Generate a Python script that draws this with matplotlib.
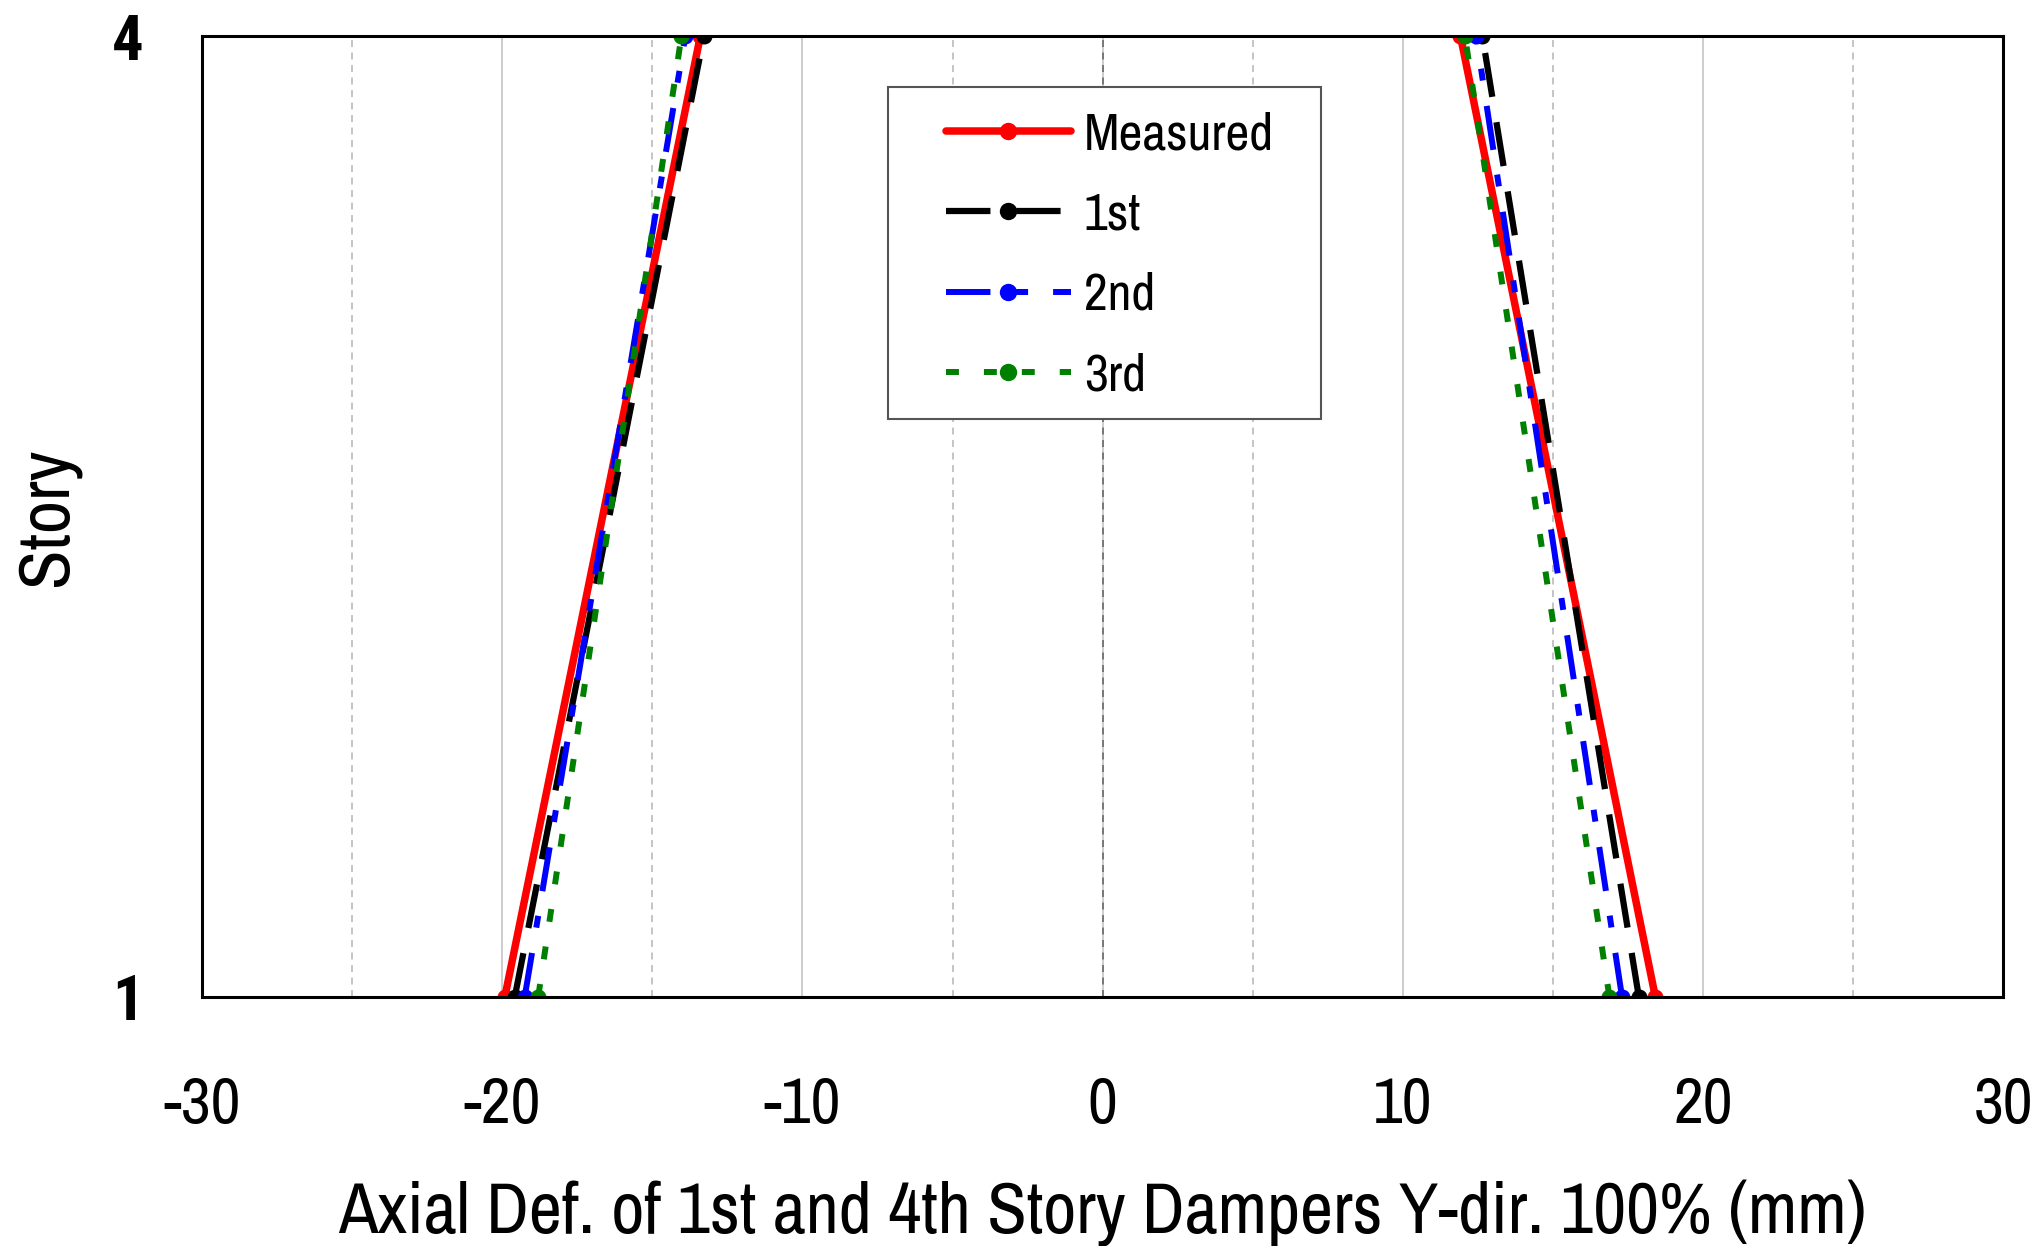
#!/usr/bin/env python3
"""Axial deformation of 1st and 4th story dampers, Y-dir. 100%: measured vs analysis."""

import matplotlib

matplotlib.use("Agg")
import matplotlib.pyplot as plt
from matplotlib import font_manager
from matplotlib.patches import Rectangle
from matplotlib.ticker import MultipleLocator

# story levels where the dampers sit
stories = [1, 4]

# axial deformation (mm); left branch = compression side, right = tension side
measured_left = [-19.91, -13.40]
measured_right = [18.41, 11.92]
first_left = [-19.58, -13.28]
first_right = [17.86, 12.65]
second_left = [-19.25, -13.90]
second_right = [17.30, 12.44]
third_left = [-18.80, -14.03]
third_right = [16.88, 12.07]

series_labels = ["Measured", "1st", "2nd", "3rd"]
x_ticks = [-30, -20, -10, 0, 10, 20, 30]
y_ticks = [1, 4]


def _pick(*candidates, default="Liberation Sans"):
    names = {f.name for f in font_manager.fontManager.ttflist}
    return next((n for n in candidates if n in names), default)


NARROW = _pick("Liberation Sans Narrow", "Arial Narrow", "Archivo Narrow", "Roboto Condensed")
NARROW_BOLD = _pick("Liberation Sans Narrow", "Arial Narrow", "Roboto Condensed", "Archivo Narrow")

plt.rcParams["font.family"] = [NARROW, "DejaVu Sans"]
plt.rcParams["lines.scale_dashes"] = False
plt.rcParams["axes.unicode_minus"] = False

STYLES = [
    dict(color="#ff0000", lw=5.4, ls="-", solid_capstyle="round"),
    dict(color="#000000", lw=4.5, ls=(0, (32, 18.5))),
    dict(color="#0000ff", lw=4.3, ls=(0, (32, 18.5, 8.6, 18))),
    dict(color="#008000", lw=4.3, ls=(0, (9.3, 18))),
]

fig = plt.figure(figsize=(20.4, 12.46), dpi=100)
ax = fig.add_axes([0.099, 0.2, 0.883, 0.771])

pairs = [
    (measured_left, measured_right),
    (first_left, first_right),
    (second_left, second_right),
    (third_left, third_right),
]
for (left, right), label, style in zip(pairs, series_labels, STYLES):
    ax.plot(left, stories, marker="o", ms=10.5, label=label, **style)
    ax.plot(right, stories, marker="o", ms=10.5, **style)

ax.set_xlim(-30, 30)
ax.set_ylim(1, 4)
ax.set_xticks(x_ticks)
ax.xaxis.set_minor_locator(MultipleLocator(5))
ax.set_yticks(y_ticks)

ax.grid(True, which="major", axis="x", color="#c0c0c0", lw=1.1, ls="-")
ax.grid(True, which="minor", axis="x", color="#b4b4b4", lw=1.1, ls=(0, (5, 4)))
ax.axvline(0, color="#707070", lw=1.3, ls=(0, (5, 4)), zorder=1.5)
ax.set_axisbelow(True)

for spine in ax.spines.values():
    spine.set_linewidth(2.2)

ax.tick_params(axis="both", which="both", length=0)
ax.tick_params(axis="x", labelsize=47, pad=57)
ax.tick_params(axis="y", labelsize=45, pad=42)
for lab in ax.get_yticklabels():
    lab.set_family(NARROW_BOLD)
    lab.set_fontweight("bold")

ax.set_xlabel("Axial Def. of 1st and 4th Story Dampers Y-dir. 100% (mm)", fontsize=52)
ax.xaxis.label.set_va("baseline")
ax.xaxis.set_label_coords(0.5, -0.2466)
ax.set_ylabel("Story", fontsize=52)
ax.yaxis.label.set_va("center")
ax.yaxis.set_label_coords(-0.0855, 0.5)

# legend frame drawn separately so its padding can be wider than tall
ax.add_patch(Rectangle((0.381, 0.601), 0.240, 0.346, transform=ax.transAxes,
                       facecolor="white", edgecolor="#555555", lw=1.5, zorder=4))
leg = ax.legend(
    loc="upper left",
    bbox_to_anchor=(0.413, 0.922),
    borderaxespad=0,
    borderpad=0,
    fontsize=37.5,
    handlelength=2.4,
    handletextpad=0.25,
    labelspacing=0.64,
    frameon=False,
)
for handle in leg.get_lines():
    handle.set_markersize(11.5)

fig.savefig("out.png", dpi=100)
